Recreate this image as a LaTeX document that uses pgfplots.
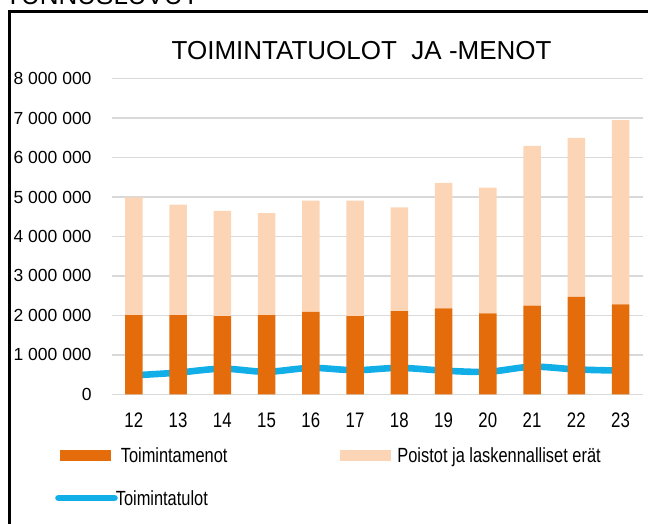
\documentclass[border=0pt]{standalone}
\usepackage{fontspec}
\setmainfont{Liberation Sans}
\newfontfamily\narrowfont[FakeStretch=0.8]{Liberation Sans}
\newfontfamily\ylabfont[FakeStretch=1.0]{Liberation Sans}
\usepackage{pgfplots}
\pgfplotsset{compat=1.18}
\definecolor{darkor}{HTML}{E46C0A}
\definecolor{lightor}{HTML}{FBD5B5}
\definecolor{lineblue}{HTML}{12AEE8}
\definecolor{gridgray}{HTML}{D9D9D9}

\pgfplotstableread{
x dark poistot tulot
12 2010000 2980000 480000
13 2010000 2800000 550000
14 1980000 2670000 650000
15 2010000 2580000 570000
16 2090000 2820000 670000
17 1980000 2930000 610000
18 2110000 2630000 670000
19 2180000 3180000 600000
20 2050000 3190000 570000
21 2250000 4050000 700000
22 2470000 4030000 630000
23 2280000 4670000 600000
}\datatable

\begin{document}
\begin{tikzpicture}[x=1pt,y=1pt]
\useasboundingbox (0,0) rectangle (648,523);
\clip (0,0) rectangle (648,523);
\node[anchor=base west, inner sep=0pt, font=\fontsize{26}{30}\selectfont] at (5,518) {TUNNUSLUVUT};
\draw[line width=2.7pt] (9.7,-20) -- (9.7,511.3) -- (700,511.3);
\node[anchor=base, inner sep=0pt, font=\fontsize{26}{30}\selectfont] at (361.6,463) {TOIMINTATUOLOT\ \ JA -MENOT};
\begin{axis}[
  at={(111.7pt,128.7pt)}, anchor=south west,
  scale only axis, width=531pt, height=315.6pt,
  xmin=11.5, xmax=23.5, ymin=0, ymax=8000000,
  scaled y ticks=false,
  axis line style={draw=none},
  major tick length=0pt,
  ymajorgrids, grid style={gridgray, line width=1.5pt},
  xtick={12,...,23},
  xticklabels={12,13,14,15,16,17,18,19,20,21,22,23},
  ytick={0,1000000,2000000,3000000,4000000,5000000,6000000,7000000,8000000},
  yticklabels={0,1 000 000,2 000 000,3 000 000,4 000 000,5 000 000,6 000 000,7 000 000,8 000 000},
  xticklabel style={font=\narrowfont\fontsize{21}{24}\selectfont, inner sep=0pt, anchor=north, yshift=-18.4pt},
  yticklabel style={font=\ylabfont\fontsize{17.5}{20}\selectfont, inner sep=0pt, anchor=east, xshift=-20pt},
  ybar stacked, bar width=17.5pt,
  legend columns=2,
  legend cell align=left,
  legend style={draw=none, fill=none, inner sep=0pt,
    at={(axis description cs:-0.1068,-0.165)}, anchor=north west,
    font=\narrowfont\fontsize{20.5}{24}\selectfont,
    row sep=25.5pt,
    nodes={inner xsep=0pt, inner ysep=0pt, text height=16pt, text depth=1.3pt},
    /tikz/column 2/.style={column sep=113pt}},
]
\addplot[fill=darkor, draw=none,
  legend image code/.code={\fill[darkor] (3pt,-5.7pt) rectangle (54pt,5.7pt);}]
  table[x=x, y=dark] {\datatable};
\addlegendentry{\hspace{3pt}Toimintamenot}
\addplot[fill=lightor, draw=none,
  legend image code/.code={\fill[lightor] (3pt,-5.7pt) rectangle (54pt,5.7pt);}]
  table[x=x, y=poistot] {\datatable};
\addlegendentry{\hspace{6pt}Poistot ja laskennalliset erät}
\addplot[stack plots=false, smooth, draw=lineblue, line width=6.6pt, fill=none, mark=none,
  legend image code/.code={\draw[lineblue, line width=6.6pt, line cap=round] (1pt,0pt) -- (57pt,0pt);}]
  table[x=x, y=tulot] {\datatable};
\addlegendentry{\hspace{-2pt}Toimintatulot}
\end{axis}
\end{tikzpicture}
\end{document}
